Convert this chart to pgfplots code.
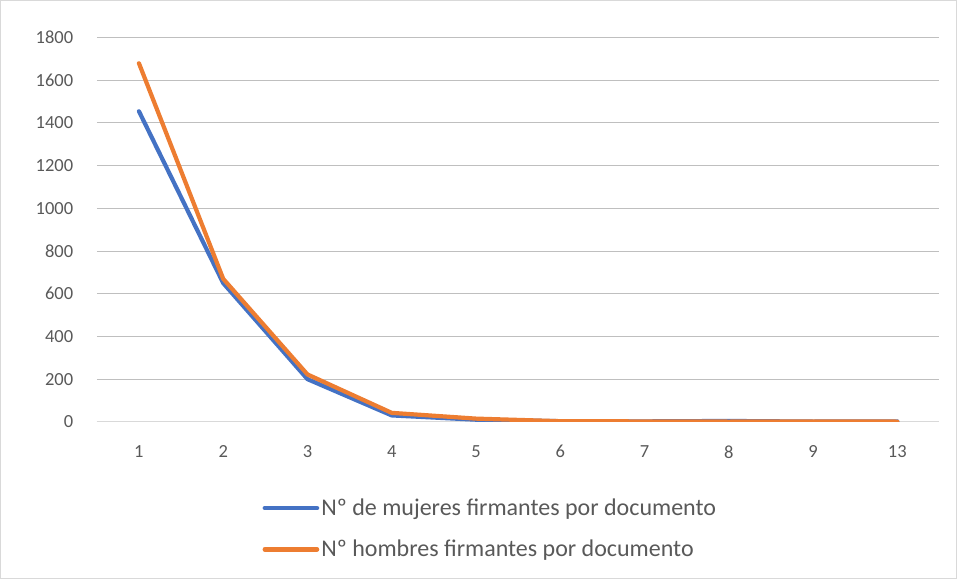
\documentclass[border=0pt]{standalone}
\usepackage{pgfplots}
\pgfplotsset{compat=1.18}
\usepackage{fontspec}
\setmainfont{Carlito}
\definecolor{exblue}{RGB}{68,114,196}
\definecolor{exorange}{RGB}{237,125,49}
\definecolor{txt}{RGB}{89,89,89}
\definecolor{grid}{RGB}{217,217,217}
\begin{document}
\begin{tikzpicture}[x=1bp,y=1bp]
\draw[grid, line width=1bp] (-96bp,-156bp) rectangle (857bp,420bp);
\begin{axis}[
  at={(0,0)}, anchor=south west,
  scale only axis,
  width=840bp, height=383bp,
  xmin=-0.5, xmax=9.5,
  ymin=0, ymax=1800,
  xtick={0,...,9},
  xticklabels={1,2,3,4,5,6,7,8,9,13},
  ytick={0,200,...,1800},
  ymajorgrids, xmajorgrids=false,
  grid style={grid, line width=1bp},
  axis lines*=left,
  y axis line style={draw=none},
  x axis line style={grid, line width=1bp, -},
  xtick style={draw=none}, ytick style={draw=none},
  major tick length=0pt,
  tick label style={font=\fontsize{18.5}{22}\selectfont, text=txt},
  /pgf/number format/assume math mode=true,
  /pgf/number format/1000 sep={},
  xticklabel style={yshift=-20bp},
  yticklabel style={xshift=-20bp},
  legend style={at={(0.467,-0.19)}, anchor=north, draw=none, fill=none,
    font=\fontsize{24}{27}\selectfont, text=txt, row sep=19bp,
    legend cell align=left, inner xsep=0pt},
  legend image code/.code={\draw[#1, line width=4.5bp, line cap=round] (0bp,0bp) -- (52bp,0bp);},
]
\addplot[exblue, line width=4.2bp, line cap=round, line join=round] coordinates {
 (0,1455) (1,650) (2,200) (3,30) (4,10) (5,3) (6,2) (7,4) (8,1) (9,2)};
\addlegendentry{Nº de mujeres firmantes por documento}
\addplot[exorange, line width=4.2bp, line cap=round, line join=round] coordinates {
 (0,1680) (1,670) (2,222) (3,42) (4,15) (5,3) (6,2) (7,1) (8,2) (9,1)};
\addlegendentry{Nº hombres firmantes por documento}
\end{axis}
\end{tikzpicture}
\end{document}
